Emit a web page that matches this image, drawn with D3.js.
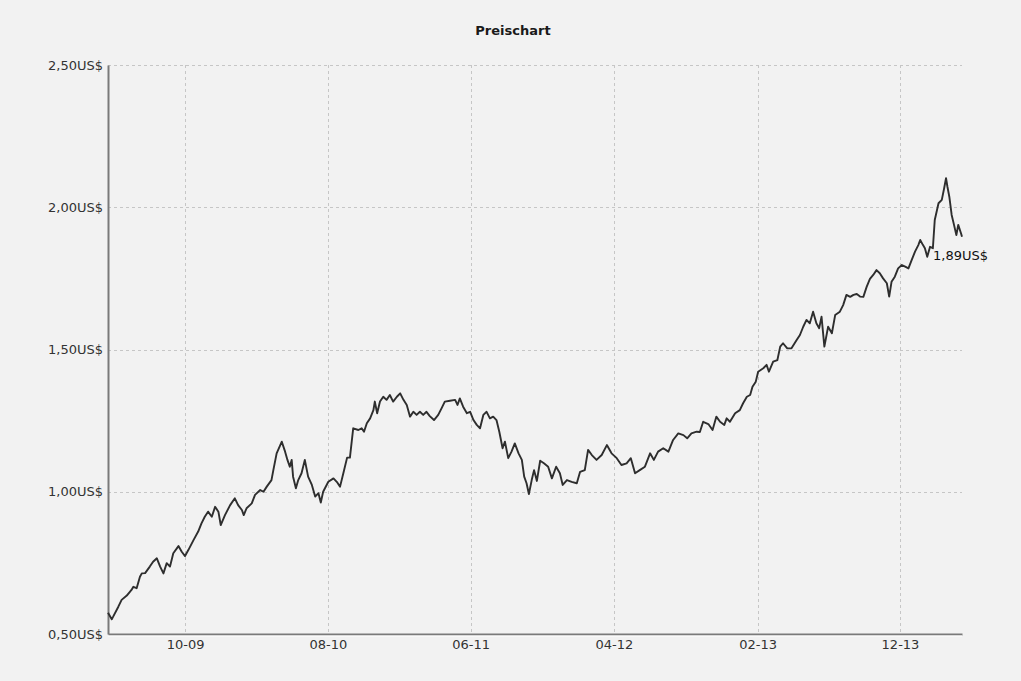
<!DOCTYPE html>
<html>
<head>
<meta charset="utf-8">
<script src="https://cdn.jsdelivr.net/npm/d3@7"></script>
<style>
  body { margin: 0; background: #f2f2f2; }
  svg { display: block; }
  text { font-family: "DejaVu Sans", Verdana, sans-serif; }
</style>
</head>
<body>
<script>
var width = 1021,
    height = 681,
    margin = {top: 65, right: 59, bottom: 47, left: 108};

// first trading day shown, days are counted from here
var startDate = "2009-04-20";

// day offsets and closing prices
var days = [0, 8, 11, 22, 29, 40, 50, 54, 61, 68, 72, 79, 89, 96, 104, 111, 118, 125, 132, 139,
  150, 157, 164, 171, 182, 192, 199, 206, 213, 221, 228, 235, 240, 249, 260, 270, 277, 285, 289, 295,
  306, 313, 324, 331, 338, 348, 352, 359, 370, 377, 382, 387, 391, 394, 400, 405, 412, 419, 426, 434,
  441, 448, 453, 458, 469, 480, 487, 494, 501, 509, 515, 522, 533, 540, 545, 551, 558, 565, 568, 573,
  579, 586, 593, 600, 607, 615, 622, 629, 636, 643, 650, 657, 664, 671, 678, 685, 694, 703, 710, 717,
  728, 739, 744, 749, 756, 764, 771, 778, 785, 792, 799, 806, 813, 820, 827, 833, 840, 845, 852, 859,
  866, 874, 881, 886, 891, 896, 902, 907, 913, 920, 928, 937, 945, 954, 962, 968, 977, 987, 998, 1005,
  1015, 1022, 1030, 1040, 1051, 1062, 1072, 1083, 1093, 1104, 1113, 1122, 1132, 1143, 1154, 1162, 1171, 1182, 1193, 1203,
  1214, 1225, 1233, 1242, 1253, 1260, 1267, 1278, 1287, 1295, 1303, 1312, 1317, 1324, 1335, 1345, 1352, 1360, 1367, 1372,
  1379, 1384, 1395, 1402, 1407, 1416, 1425, 1431, 1437, 1446, 1455, 1466, 1473, 1480, 1487, 1494, 1501, 1508, 1514, 1519,
  1525, 1533, 1541, 1548, 1558, 1565, 1572, 1580, 1587, 1594, 1601, 1608, 1615, 1622, 1629, 1636, 1643, 1650, 1658, 1663,
  1668, 1675, 1682, 1690, 1697, 1704, 1711, 1718, 1725, 1729, 1735, 1739, 1744, 1750, 1756, 1760, 1768, 1775, 1780, 1784,
  1787, 1791, 1796, 1801, 1806, 1810, 1816, 1818];

var prices = [0.575, 0.552, 0.561, 0.596, 0.620, 0.635, 0.655, 0.666, 0.661, 0.701, 0.713, 0.714, 0.737, 0.754, 0.766, 0.737, 0.713, 0.749, 0.737, 0.784,
  0.809, 0.789, 0.774, 0.795, 0.830, 0.860, 0.889, 0.912, 0.930, 0.912, 0.947, 0.930, 0.883, 0.918, 0.953, 0.977, 0.953, 0.936, 0.918, 0.942,
  0.959, 0.989, 1.006, 1.000, 1.018, 1.041, 1.076, 1.135, 1.176, 1.141, 1.112, 1.088, 1.112, 1.053, 1.012, 1.041, 1.065, 1.112, 1.053, 1.024,
  0.983, 0.995, 0.962, 1.000, 1.035, 1.047, 1.035, 1.018, 1.065, 1.120, 1.120, 1.223, 1.217, 1.223, 1.211, 1.241, 1.258, 1.287, 1.317, 1.276,
  1.317, 1.334, 1.323, 1.340, 1.317, 1.334, 1.346, 1.323, 1.305, 1.264, 1.281, 1.270, 1.281, 1.270, 1.281, 1.266, 1.252, 1.270, 1.293, 1.317,
  1.320, 1.323, 1.305, 1.328, 1.299, 1.276, 1.281, 1.252, 1.235, 1.223, 1.270, 1.281, 1.258, 1.264, 1.252, 1.211, 1.153, 1.176, 1.118, 1.141,
  1.170, 1.135, 1.112, 1.053, 1.030, 0.992, 1.041, 1.076, 1.038, 1.109, 1.100, 1.088, 1.047, 1.088, 1.065, 1.024, 1.041, 1.035, 1.030, 1.070,
  1.076, 1.147, 1.129, 1.112, 1.129, 1.164, 1.135, 1.118, 1.094, 1.100, 1.118, 1.065, 1.076, 1.088, 1.135, 1.112, 1.141, 1.153, 1.141, 1.182,
  1.205, 1.199, 1.188, 1.205, 1.211, 1.210, 1.246, 1.238, 1.217, 1.264, 1.246, 1.235, 1.258, 1.246, 1.276, 1.287, 1.311, 1.334, 1.340, 1.369,
  1.387, 1.422, 1.434, 1.446, 1.422, 1.457, 1.463, 1.510, 1.522, 1.504, 1.504, 1.533, 1.551, 1.580, 1.604, 1.592, 1.633, 1.592, 1.575, 1.615,
  1.510, 1.580, 1.557, 1.621, 1.633, 1.656, 1.692, 1.685, 1.692, 1.695, 1.686, 1.685, 1.720, 1.748, 1.762, 1.779, 1.768, 1.750, 1.733, 1.686,
  1.738, 1.756, 1.785, 1.797, 1.791, 1.785, 1.815, 1.844, 1.867, 1.885, 1.867, 1.856, 1.826, 1.861, 1.856, 1.955, 2.014, 2.026, 2.067, 2.102,
  2.072, 2.037, 1.973, 1.938, 1.902, 1.938, 1.908, 1.896];

var yTicks = [0.5, 1.0, 1.5, 2.0, 2.5];
var xTicks = ["2009-10-01", "2010-08-01", "2011-06-01", "2012-04-01", "2013-02-01", "2013-12-01"];
var lastLabel = "1,89US$";

var parse = d3.timeParse("%Y-%m-%d");
var start = parse(startDate);

var data = days.map(function(d, i) {
  return {date: d3.timeDay.offset(start, d), value: prices[i]};
});

// german style decimal comma
var fmtPrice = function(v) { return d3.format(".2f")(v).replace(".", ",") + "US$"; };

var svg = d3.select("body").append("svg")
    .attr("width", width)
    .attr("height", height);

svg.append("rect")
    .attr("width", width)
    .attr("height", height)
    .attr("fill", "#f2f2f2");

var x = d3.scaleTime()
    .domain([start, d3.timeDay.offset(start, days[days.length - 1])])
    .range([margin.left, width - margin.right]);

var y = d3.scaleLinear()
    .domain([0.5, 2.5])
    .range([height - margin.bottom, margin.top]);

// title
svg.append("text")
    .attr("x", 513)
    .attr("y", 35)
    .attr("text-anchor", "middle")
    .attr("font-size", "13px")
    .attr("font-weight", "bold")
    .attr("fill", "#1a1a1a")
    .text("Preischart");

// grid
var grid = svg.append("g")
    .attr("stroke", "#c6c6c6")
    .attr("stroke-width", 1)
    .attr("stroke-dasharray", "3,3");

grid.selectAll(".hgrid")
  .data(yTicks.slice(1))
  .enter().append("line")
    .attr("x1", margin.left)
    .attr("x2", width - margin.right)
    .attr("y1", function(d) { return Math.round(y(d)) + 0.5; })
    .attr("y2", function(d) { return Math.round(y(d)) + 0.5; });

grid.selectAll(".vgrid")
  .data(xTicks.map(parse))
  .enter().append("line")
    .attr("x1", function(d) { return Math.round(x(d)) + 0.5; })
    .attr("x2", function(d) { return Math.round(x(d)) + 0.5; })
    .attr("y1", margin.top)
    .attr("y2", height - margin.bottom);

// y axis
var yAxis = svg.append("g")
    .attr("transform", "translate(" + margin.left + ",0)")
    .call(d3.axisLeft(y).tickValues(yTicks).tickSize(0).tickPadding(5).tickFormat(fmtPrice));

yAxis.select(".domain").attr("stroke", "#7a7a7a").attr("stroke-width", 2);
yAxis.selectAll("text")
    .attr("font-size", "13px")
    .attr("font-family", "DejaVu Sans, sans-serif")
    .attr("fill", "#333");

// x axis
var xAxis = svg.append("g")
    .attr("transform", "translate(0," + (height - margin.bottom) + ")")
    .call(d3.axisBottom(x).tickValues(xTicks.map(parse)).tickSize(0).tickPadding(6)
      .tickFormat(d3.timeFormat("%m-%y")));

xAxis.select(".domain").attr("stroke", "#7a7a7a").attr("stroke-width", 2);
xAxis.selectAll("text")
    .attr("font-size", "13px")
    .attr("font-family", "DejaVu Sans, sans-serif")
    .attr("fill", "#333");

svg.append("line")
    .attr("x1", margin.left)
    .attr("x2", width - margin.right)
    .attr("y1", height - margin.bottom + 2)
    .attr("y2", height - margin.bottom + 2)
    .attr("stroke", "#ffffff")
    .attr("stroke-width", 1);

// price line
var line = d3.line()
    .x(function(d) { return x(d.date); })
    .y(function(d) { return y(d.value); });

svg.append("path")
    .datum(data)
    .attr("fill", "none")
    .attr("stroke", "#2e2e2e")
    .attr("stroke-width", 1.9)
    .attr("stroke-linejoin", "round")
    .attr("d", line);

// last price label
var last = data[data.length - 1];
svg.append("text")
    .attr("x", x(last.date) - 29)
    .attr("y", y(last.value) + 23)
    .attr("font-size", "13px")
    .attr("fill", "#111")
    .text(lastLabel);
</script>
</body>
</html>
